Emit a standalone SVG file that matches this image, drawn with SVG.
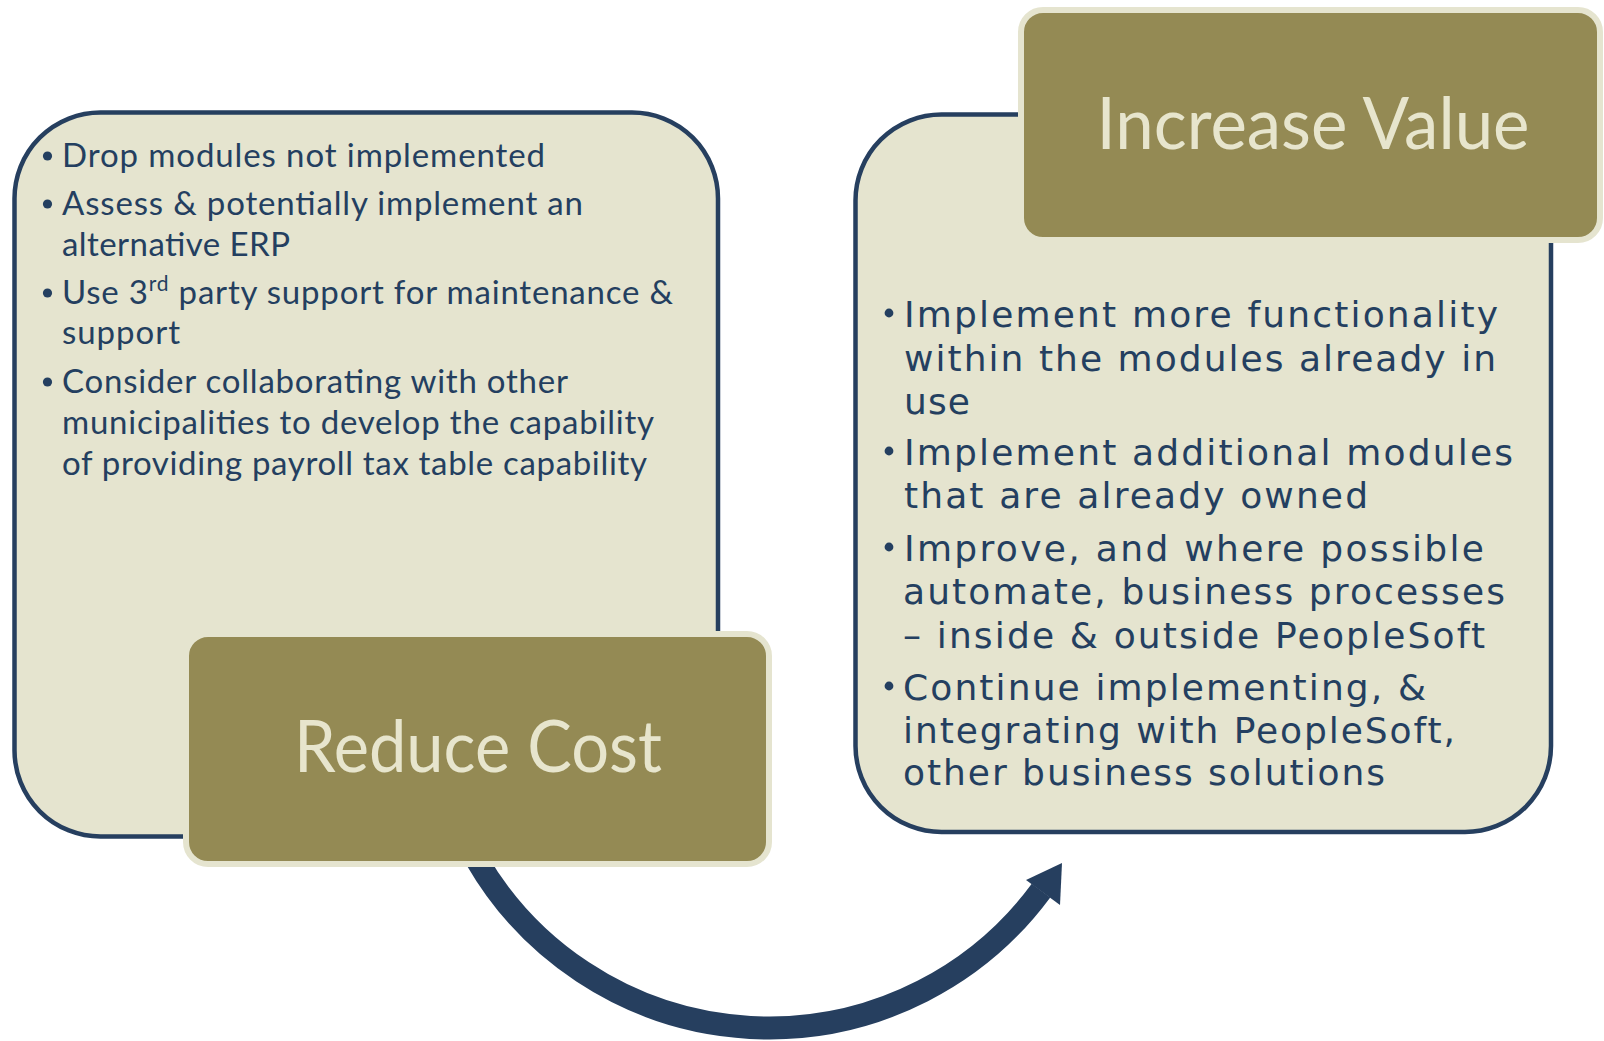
<svg xmlns="http://www.w3.org/2000/svg" width="1604" height="1041" viewBox="0 0 1604 1041">
  <style>
    .panel { fill: #e5e4cf; stroke: #263f5f; stroke-width: 4.5; }
    .tag { fill: #948a54; stroke: #e5e4cf; stroke-width: 6; }
    .tag-text { fill: #e7e5cd; font-family: Lato, "Open Sans", sans-serif; font-size: 72px; text-anchor: middle; }
    .left-text { fill: #243f60; font-family: Lato, "Open Sans", sans-serif; font-size: 33px; }
    .right-text { fill: #243f60; font-family: "DejaVu Sans", sans-serif; font-size: 36px; }
    .dot { fill: #243f60; }
    .flow { fill: none; stroke: #263f5f; stroke-width: 23; }
  </style>

  <!-- curved flow arrow from Reduce Cost to Increase Value -->
  <g id="connectors">
    <path class="flow" d="M476.3,859 A338,338 0 0 0 1041,890.6"/>
    <polygon fill="#263f5f" points="1062,863 1026,880 1060,905"/>
  </g>

  <!-- left panel: cost reduction measures -->
  <g id="reduce-cost-panel">
    <rect class="panel" x="14.5" y="112.5" width="703.5" height="724" rx="86" ry="86"/>
    <circle class="dot" cx="47.5" cy="156" r="4.6"/>
    <text class="left-text" x="62" y="167" textLength="483" lengthAdjust="spacing">Drop modules not implemented</text>
    <circle class="dot" cx="47.5" cy="204" r="4.6"/>
    <text class="left-text" x="62" y="215" textLength="521" lengthAdjust="spacing">Assess &amp; potentially implement an</text>
    <text class="left-text" x="62" y="256" textLength="228" lengthAdjust="spacing">alternative ERP</text>
    <circle class="dot" cx="47.5" cy="293" r="4.6"/>
    <text class="left-text" x="62" y="304" textLength="611" lengthAdjust="spacing">Use 3<tspan font-size="21" dy="-13">rd</tspan><tspan dy="13"> party support for maintenance &amp;</tspan></text>
    <text class="left-text" x="62" y="344" textLength="118" lengthAdjust="spacing">support</text>
    <circle class="dot" cx="47.5" cy="382" r="4.6"/>
    <text class="left-text" x="62" y="393" textLength="506" lengthAdjust="spacing">Consider collaborating with other</text>
    <text class="left-text" x="62" y="434" textLength="592" lengthAdjust="spacing">municipalities to develop the capability</text>
    <text class="left-text" x="62" y="475" textLength="585" lengthAdjust="spacing">of providing payroll tax table capability</text>
  </g>

  <g id="reduce-cost-tag">
    <rect class="tag" x="186" y="634" width="583" height="230" rx="22" ry="22"/>
    <text class="tag-text" x="478" y="772" textLength="368" lengthAdjust="spacingAndGlyphs">Reduce Cost</text>
  </g>

  <!-- right panel: value increasing measures -->
  <g id="increase-value-panel">
    <rect class="panel" x="855.5" y="114.5" width="695.5" height="717.5" rx="86" ry="86"/>
    <circle class="dot" cx="889" cy="313" r="4.4"/>
    <text class="right-text" x="904" y="327" textLength="594" lengthAdjust="spacing">Implement more functionality</text>
    <text class="right-text" x="904" y="371" textLength="592" lengthAdjust="spacing">within the modules already in</text>
    <text class="right-text" x="904" y="414" textLength="66" lengthAdjust="spacing">use</text>
    <circle class="dot" cx="889" cy="451" r="4.4"/>
    <text class="right-text" x="904" y="465" textLength="609" lengthAdjust="spacing">Implement additional modules</text>
    <text class="right-text" x="904" y="508" textLength="464" lengthAdjust="spacing">that are already owned</text>
    <circle class="dot" cx="889" cy="547" r="4.4"/>
    <text class="right-text" x="904" y="561" textLength="580" lengthAdjust="spacing">Improve, and where possible</text>
    <text class="right-text" x="903" y="604" textLength="602" lengthAdjust="spacing">automate, business processes</text>
    <text class="right-text" x="903" y="648" textLength="582" lengthAdjust="spacing">– inside &amp; outside PeopleSoft</text>
    <circle class="dot" cx="889" cy="686" r="4.4"/>
    <text class="right-text" x="903" y="700" textLength="523" lengthAdjust="spacing">Continue implementing, &amp;</text>
    <text class="right-text" x="903" y="743" textLength="552" lengthAdjust="spacing">integrating with PeopleSoft,</text>
    <text class="right-text" x="903" y="785" textLength="482" lengthAdjust="spacing">other business solutions</text>
  </g>

  <g id="increase-value-tag">
    <rect class="tag" x="1021" y="10" width="579" height="230" rx="22" ry="22"/>
    <text class="tag-text" x="1313" y="149" textLength="433" lengthAdjust="spacingAndGlyphs">Increase Value</text>
  </g>
</svg>
